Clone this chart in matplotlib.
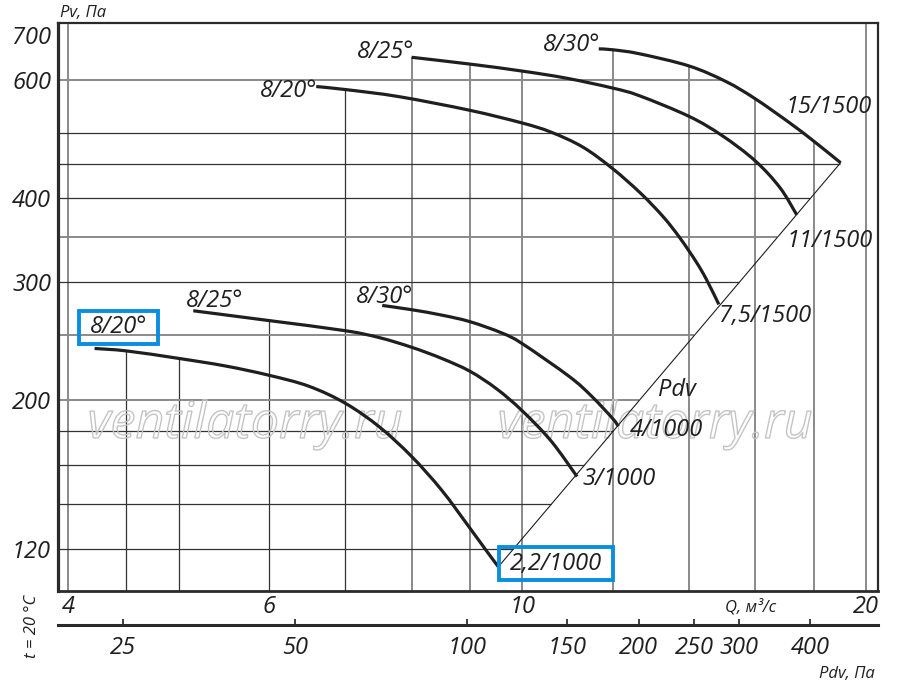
import numpy as np
import matplotlib
matplotlib.use("Agg")
import matplotlib.pyplot as plt
from matplotlib import font_manager
from matplotlib import patheffects as pe
from matplotlib.path import Path
from matplotlib.patches import PathPatch
from matplotlib.ticker import NullFormatter, NullLocator

# pick a sans family that has a real italic face (the chart is all italic)
family = "DejaVu Sans"
for cand in ["Open Sans", "Noto Sans", "Lato", "Roboto", "Liberation Sans"]:
    if any(f.name == cand and f.style in ("italic", "oblique") for f in font_manager.fontManager.ttflist):
        family = cand
        break
plt.rcParams["font.family"] = [family, "DejaVu Sans"]
plt.rcParams["font.style"] = "italic"

# ---------------- data ----------------
# Q, m3/s  and  Pv, Pa   (1000 rpm group)
q_20_1000 = [4.22, 4.5, 5.0, 5.5, 6.0, 6.5, 7.0, 7.5, 8.0, 8.5, 9.0, 9.3, 9.53]
pv_20_1000 = [239, 237, 231, 225, 218, 210, 198, 182.5, 165, 147, 129, 119.5, 113]
q_25_1000 = [5.15, 6.0, 7.0, 7.5, 8.0, 8.5, 9.0, 9.5, 10.0, 10.6, 11.17]
pv_25_1000 = [272, 263, 254, 248, 240, 231, 221, 208, 193, 174, 154]
q_30_1000 = [7.54, 8.0, 8.5, 9.0, 9.6, 10.0, 11.0, 11.5, 12.0, 12.14]
pv_30_1000 = [277, 273, 268, 262, 252, 243, 217, 203, 188, 183]
# 1500 rpm group
q_20_1500 = [6.6, 7.0, 7.8, 9.0, 10.0, 10.6, 11.3, 12.0, 12.7, 13.3, 13.75, 14.2, 14.5, 14.87]
pv_20_1500 = [587, 581, 567, 541, 518, 502, 477, 443, 407, 375, 349, 322, 303, 278]
q_25_1500 = [8.0, 9.0, 10.0, 10.94, 12.0, 12.66, 14.0, 14.97, 16.0, 16.82, 17.4]
pv_25_1500 = [649, 634, 619, 604, 584, 569, 530, 496, 455, 415, 378]
q_30_1500 = [11.67, 12.0, 12.66, 14.0, 15.09, 16.0, 17.16, 18.0, 19.01]
pv_30_1500 = [668, 666, 657, 630, 597, 563, 518, 487, 452]

blade_labels = ["8/20°", "8/25°", "8/30°", "8/20°", "8/25°", "8/30°"]
motor_labels = ["2,2/1000", "3/1000", "4/1000", "7,5/1500", "11/1500", "15/1500"]

# Pdv line (curve end points lie on it)
pdv_line_q = [9.53, 19.01]
pdv_line_pv = [113, 452]

# axes ticks and grid
q_ticks = [4, 6, 10, 20]
pv_ticks = [120, 200, 300, 400, 600, 700]
pdv_ticks = [25, 50, 100, 150, 200, 250, 300, 400]
v_grid_q = [4, 4.5, 5, 6, 7, 8, 9, 10, 12, 14, 16, 18, 20]
h_grid_pv = [120, 140, 160, 180, 200, 250, 300, 350, 400, 450, 500, 600]
PDV_PER_Q2 = 1.25   # Pdv = 1.25 * Q^2

# ---------------- styling ----------------
curves_q = [q_20_1000, q_25_1000, q_30_1000, q_20_1500, q_25_1500, q_30_1500]
curves_pv = [pv_20_1000, pv_25_1000, pv_30_1000, pv_20_1500, pv_25_1500, pv_30_1500]
blade_off = [(24, 21), (21, 10), (2, 8), (-28, -4), (-26, 5), (-27, 4)]
motor_off = [(58, 3), (42, -2), (48, -4), (46, -12), (33, -26), (-12, 56)]
boxed = [True, False, False, False, False, False]
grey_v = [4, 8, 9, 10, 12, 14, 16, 18, 20]
grey_h = [600, 350, 250, 200]

INK = "#1f1f1f"
BLUE = "#0a8ee0"
XLIM = (3.92, 20.5)
YLIM = (104, 730)


def wide_box(x0, y0, width, height, mutation_size):
    # label frame: more room left/right than above/below
    px, py = 0.47 * mutation_size, 0.19 * mutation_size
    x0, y0 = x0 - px, y0 - py
    x1, y1 = x0 + width + 2 * px, y0 + height + 2 * py
    return Path([(x0, y0), (x1, y0), (x1, y1), (x0, y1), (x0, y0)], closed=True)


def smooth_path(q, p):
    # curve through the read points (cubic pieces in log-log space)
    pts = np.column_stack([np.log(q), np.log(p)])
    ext = np.vstack([pts[0], pts, pts[-1]])
    verts, codes = [pts[0]], [Path.MOVETO]
    for i in range(len(pts) - 1):
        p0, p1, p2, p3 = ext[i], ext[i + 1], ext[i + 2], ext[i + 3]
        verts += [p1 + (p2 - p0) / 6, p2 - (p3 - p1) / 6, p2]
        codes += [Path.CURVE4] * 3
    return Path(np.exp(np.array(verts)), codes)


def loginterp(x, xp, fp):
    return np.exp(np.interp(np.log(x), np.log(xp), np.log(fp)))


def top_of_curves(q):
    found = [loginterp(q, cq, cp) for cq, cp in zip(curves_q, curves_pv) if cq[0] <= q <= cq[-1]]
    return max(found) if found else YLIM[1]


def right_end(p):
    if p <= pdv_line_pv[-1]:
        lq = np.log(pdv_line_q)
        lp = np.log(pdv_line_pv)
        return np.exp(lq[0] + (np.log(p) - lp[0]) * (lq[1] - lq[0]) / (lp[1] - lp[0]))
    cq, cp = curves_q[-1], curves_pv[-1]
    return loginterp(p, cp[::-1], cq[::-1])


fig = plt.figure(figsize=(9, 6.92), dpi=100)
ax = fig.add_axes([58 / 900, 101 / 692, 820 / 900, 568 / 692])
ax.set_xscale("log")
ax.set_yscale("log")
ax.set_xlim(*XLIM)
ax.set_ylim(*YLIM)

# grid, cut off by the curves and the Pdv line
for q in v_grid_q:
    grey = q in grey_v
    ax.vlines(q, YLIM[0], top_of_curves(q), color="#8a8a8a" if grey else "#333333",
              lw=1.4 if grey else 0.9, zorder=1)
for p in h_grid_pv:
    grey = p in grey_h
    ax.hlines(p, XLIM[0], right_end(p), color="#8a8a8a" if grey else "#333333",
              lw=1.4 if grey else 0.9, zorder=1)

# watermark
for xa in (0.228, 0.728):
    ax.text(xa, 0.292, "ventilatorry.ru", transform=ax.transAxes, ha="center", va="center",
            fontsize=36, color=(1, 1, 1, 0), zorder=2,
            path_effects=[pe.Stroke(linewidth=1.0, foreground="#c4c4c4")])

# Pdv line
ax.plot(pdv_line_q, pdv_line_pv, color=INK, lw=0.8, zorder=3)

# curves and labels
for i in range(len(curves_q)):
    cq, cp = curves_q[i], curves_pv[i]
    ax.add_patch(PathPatch(smooth_path(cq, cp), fill=False, ec=INK, lw=2.3,
                           capstyle="butt", zorder=4))
    box = dict(boxstyle=wide_box, fc="none", ec=BLUE, lw=2.8) if boxed[i] else None
    ax.annotate(blade_labels[i], xy=(cq[0], cp[0]), xytext=blade_off[i], textcoords="offset pixels",
                ha="center", va="center", fontsize=17, color=INK, bbox=box, zorder=5)
    ax.annotate(motor_labels[i], xy=(cq[-1], cp[-1]), xytext=motor_off[i], textcoords="offset pixels",
                ha="center", va="center", fontsize=17, color=INK, bbox=box, zorder=5)

ax.text(0.755, 0.354, "Pdv", transform=ax.transAxes, ha="center", va="center",
        fontsize=17, color=INK, zorder=5)

# ticks
ax.set_xticks(q_ticks)
ax.set_xticklabels([str(v) for v in q_ticks])
ax.set_yticks(pv_ticks)
ax.set_yticklabels([str(v) for v in pv_ticks])
for axis in (ax.xaxis, ax.yaxis):
    axis.set_minor_locator(NullLocator())
    axis.set_minor_formatter(NullFormatter())
ax.tick_params(length=0, labelsize=17, colors=INK)
ax.tick_params(axis="x", pad=3)
ax.tick_params(axis="y", pad=5)

for side, lw in (("left", 2.3), ("bottom", 2.0), ("top", 1.6), ("right", 1.6)):
    ax.spines[side].set_linewidth(lw)
    ax.spines[side].set_color("#2a2a2a")

# dynamic pressure scale below the Q axis
sec = ax.secondary_xaxis(-(625 - 591) / 568,
                         functions=(lambda q: PDV_PER_Q2 * np.asarray(q) ** 2,
                                    lambda p: np.sqrt(np.maximum(p, 1e-9) / PDV_PER_Q2)))
sec.set_xticks(pdv_ticks)
sec.set_xticklabels([str(v) for v in pdv_ticks])
sec.xaxis.set_minor_locator(NullLocator())
sec.xaxis.set_minor_formatter(NullFormatter())
sec.tick_params(direction="in", length=4, width=1.2, labelsize=17, colors=INK, pad=8)
sec.spines["bottom"].set_linewidth(2.2)
sec.spines["bottom"].set_color("#2a2a2a")

# axis captions
fig.text(0.0922, 0.981, "Pv, Па", fontsize=12, ha="center", va="center", color=INK)
fig.text(0.8344, 0.1228, "Q, м³/с", fontsize=12, ha="center", va="center", color=INK)
fig.text(0.9411, 0.026, "Pdv, Па", fontsize=12, ha="center", va="center", color=INK)
fig.text(0.0356, 0.0954, "t = 20 °C", fontsize=12, rotation=90, ha="center", va="center", color=INK)

fig.savefig("out.png", dpi=100)
